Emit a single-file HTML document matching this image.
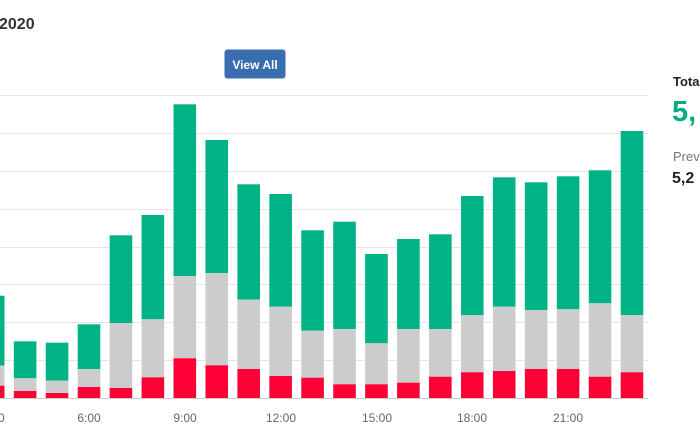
<!DOCTYPE html>
<html><head><meta charset="utf-8"><style>
html,body{margin:0;padding:0;background:#fff;width:700px;height:441px;overflow:hidden;font-family:"Liberation Sans",sans-serif;}
</style></head><body>
<svg width="700" height="441" viewBox="0 0 700 441" xmlns="http://www.w3.org/2000/svg" style="position:absolute;left:0;top:0">
<text x="-1" y="29" font-size="16" font-weight="bold" fill="#333" font-family="Liberation Sans, sans-serif">2020</text>
<rect x="224.5" y="49.5" width="61" height="29" rx="3" fill="#3a6cb0"/>
<text x="255" y="69" font-size="12" font-weight="bold" fill="#fff" text-anchor="middle" font-family="Liberation Sans, sans-serif">View All</text>
<g stroke="#e6e6e6" stroke-width="1">
<line x1="0" x2="648" y1="95.5" y2="95.5"/>
<line x1="0" x2="648" y1="133.5" y2="133.5"/>
<line x1="0" x2="648" y1="171.5" y2="171.5"/>
<line x1="0" x2="648" y1="209.5" y2="209.5"/>
<line x1="0" x2="648" y1="247.5" y2="247.5"/>
<line x1="0" x2="648" y1="284.5" y2="284.5"/>
<line x1="0" x2="648" y1="322.5" y2="322.5"/>
<line x1="0" x2="648" y1="360.5" y2="360.5"/>
</g>
<g id="bars"></g>
<line x1="0" x2="648" y1="398.5" y2="398.5" stroke="#cccccc" stroke-width="1"/>
<g font-size="12" fill="#666" text-anchor="middle" font-family="Liberation Sans, sans-serif">
<text x="-7" y="422">3:00</text>
<text x="89" y="422">6:00</text>
<text x="185" y="422">9:00</text>
<text x="281" y="422">12:00</text>
<text x="377" y="422">15:00</text>
<text x="472" y="422">18:00</text>
<text x="568" y="422">21:00</text>
</g>
<text x="673" y="86" font-size="13" font-weight="bold" fill="#222" font-family="Liberation Sans, sans-serif">Total</text>
<text x="672" y="121" font-size="29" font-weight="bold" fill="#00ac82" font-family="Liberation Sans, sans-serif">5,</text>
<text x="673" y="161" font-size="13" fill="#777" font-family="Liberation Sans, sans-serif">Previous</text>
<text x="672" y="183" font-size="16" font-weight="bold" fill="#222" font-family="Liberation Sans, sans-serif">5,2</text>
</svg>
<script>
var d={3:[295.7,365.7,385.7],4:[341.3,378.3,391],5:[342.7,380.7,393],6:[324.3,369,387],7:[235.3,323,388],8:[215,319.3,377.3],9:[104.3,276,358.3],10:[140,273,365.3],11:[184.3,299.5,369],12:[194,306.7,376],13:[230.3,330.7,377.7],14:[221.7,329,384.3],15:[254,343.3,384.3],16:[239,329,382.7],17:[234.3,329,376.7],18:[196,315,372.3],19:[177.3,306.7,371],20:[182.3,310,369],21:[176.3,309.3,369],22:[170.3,303.3,376.7],23:[131,315,372.3]};
var g=document.getElementById('bars'),s='',B=398;
for(var h=3;h<=23;h++){var c=89+(h-6)*31.94,x=c-11.3,w=22.6,v=d[h];
s+='<rect x="'+x+'" y="'+v[0]+'" width="'+w+'" height="'+(v[1]-v[0])+'" fill="#00b386"/>';
s+='<rect x="'+x+'" y="'+v[1]+'" width="'+w+'" height="'+(v[2]-v[1])+'" fill="#cccccc"/>';
s+='<rect x="'+x+'" y="'+v[2]+'" width="'+w+'" height="'+(B-v[2])+'" fill="#ff0036"/>';}
g.innerHTML=s;
</script>
</body></html>
